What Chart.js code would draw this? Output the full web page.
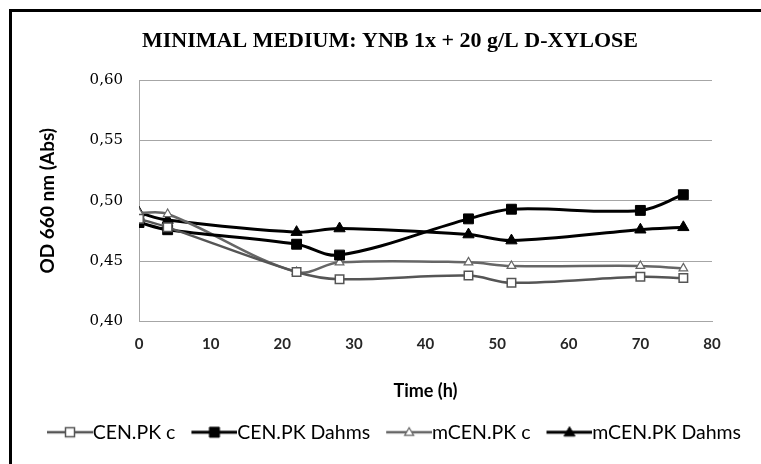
<!DOCTYPE html>
<html>
<head>
<meta charset="utf-8">
<script src="https://cdn.jsdelivr.net/npm/chart.js@4/dist/chart.umd.min.js"></script>
<style>
  html, body { margin: 0; padding: 0; background: #fff; overflow: hidden; }
  #wrap { width: 761px; height: 464px; }
</style>
</head>
<body>
<div id="wrap"><canvas id="growthChart" width="761" height="464"></canvas></div>
<script>
// sampling times (h)
var times = [0, 4, 22, 28, 46, 52, 70, 76];

// OD 660 nm readings per strain
var cenPkC = [0.485, 0.478, 0.441, 0.435, 0.438, 0.432, 0.437, 0.436];
var cenPkDahms = [0.482, 0.476, 0.464, 0.455, 0.485, 0.493, 0.492, 0.505];
var mCenPkC = [0.490, 0.489, 0.441, 0.449, 0.449, 0.446, 0.446, 0.444];
var mCenPkDahms = [0.490, 0.484, 0.474, 0.477, 0.472, 0.467, 0.476, 0.478];

var seriesNames = ['CEN.PK c', 'CEN.PK Dahms', 'mCEN.PK c', 'mCEN.PK Dahms'];
var yTicks = [0.40, 0.45, 0.50, 0.55, 0.60];
var xTicks = [0, 10, 20, 30, 40, 50, 60, 70, 80];

function toPoints(values) {
  var pts = [];
  for (var i = 0; i < times.length; i++) {
    pts.push({ x: times[i], y: values[i] });
  }
  return pts;
}

var styles = [
  { color: '#555555', marker: 'rect', fill: '#ffffff', radius: 6, border: 1.5, width: 2.5 },
  { color: '#000000', marker: 'rect', fill: '#000000', radius: 7, border: 1, width: 3 },
  { color: '#666666', marker: 'triangle', fill: '#ffffff', radius: 5, border: 1.2, width: 2.5 },
  { color: '#000000', marker: 'triangle', fill: '#000000', radius: 6.5, border: 1, width: 3 }
];

var allValues = [cenPkC, cenPkDahms, mCenPkC, mCenPkDahms];

var datasets = [];
for (var i = 0; i < allValues.length; i++) {
  var s = styles[i];
  datasets.push({
    label: seriesNames[i],
    data: toPoints(allValues[i]),
    borderColor: s.color,
    borderWidth: s.width,
    backgroundColor: s.fill,
    pointStyle: s.marker,
    pointRadius: s.radius,
    pointBorderWidth: s.border,
    pointBorderColor: s.color,
    pointBackgroundColor: s.fill,
    tension: 0.35,
    fill: false
  });
}

// line + marker swatch for the legend; the left part stays empty so the
// line runs right up to the label text
var SW = 44;
function legendSwatch(s) {
  var c = document.createElement('canvas');
  c.width = SW + 20;
  c.height = 14;
  var g = c.getContext('2d');
  var x0 = 18, x1 = SW + 20, mid = (x0 + x1) / 2;
  g.strokeStyle = s.color;
  g.lineWidth = s.width;
  g.beginPath();
  g.moveTo(x0, 7);
  g.lineTo(x1, 7);
  g.stroke();
  g.fillStyle = s.fill;
  g.lineWidth = s.border;
  g.beginPath();
  if (s.marker === 'rect') {
    var h = s.fill === '#ffffff' ? 4.5 : 5;
    g.rect(mid - h, 7 - h, 2 * h, 2 * h);
  } else {
    var r = s.fill === '#ffffff' ? 4.5 : 5.5;
    g.moveTo(mid, 7 - r);
    g.lineTo(mid + r, 7 + r * 0.7);
    g.lineTo(mid - r, 7 + r * 0.7);
    g.closePath();
  }
  g.fill();
  g.stroke();
  return c;
}

// black frame: left edge and top edge
var framePlugin = {
  id: 'frame',
  beforeDraw: function (chart) {
    var ctx = chart.ctx;
    ctx.save();
    ctx.fillStyle = '#000';
    ctx.fillRect(9, 9, 3, 455);
    ctx.fillRect(9, 9, 752, 3);
    ctx.restore();
  }
};

var chart = new Chart(document.getElementById('growthChart'), {
  type: 'line',
  data: { datasets: datasets },
  plugins: [framePlugin],
  options: {
    responsive: false,
    animation: false,
    layout: { padding: { left: 19, right: 0, top: 0, bottom: 12 } },
    plugins: {
      title: {
        display: true,
        text: 'MINIMAL MEDIUM: YNB 1x + 20 g/L D-XYLOSE',
        color: '#000',
        font: { family: 'Liberation Serif', size: 22, weight: 'bold' },
        padding: { top: 28, bottom: 25.6 }
      },
      legend: {
        position: 'bottom',
        labels: {
          color: '#000',
          font: { family: 'Lato', size: 19.5 },
          padding: 8,
          usePointStyle: true,
          pointStyleWidth: SW,
          generateLabels: function (ch) {
            return ch.data.datasets.map(function (ds, idx) {
              return {
                text: ds.label,
                pointStyle: legendSwatch(styles[idx]),
                fillStyle: styles[idx].fill,
                strokeStyle: styles[idx].color,
                lineWidth: 0,
                hidden: false,
                datasetIndex: idx
              };
            });
          }
        }
      },
      tooltip: { enabled: false }
    },
    scales: {
      x: {
        type: 'linear',
        min: 0,
        max: 80,
        afterBuildTicks: function (scale) {
          scale.ticks = xTicks.map(function (v) { return { value: v }; });
        },
        afterFit: function (scale) { scale.height = 93; },
        grid: { display: false },
        border: { display: true, color: '#a6a6a6', width: 1 },
        ticks: {
          color: '#262626',
          padding: 6,
          font: { family: 'Lato', size: 15, weight: 'bold' },
          maxRotation: 0
        },
        title: {
          display: true,
          text: 'Time (h)',
          color: '#000',
          font: { family: 'Lato', size: 18, weight: 'bold' },
          padding: { top: 0, bottom: 13 }
        }
      },
      y: {
        min: 0.40,
        max: 0.60,
        afterBuildTicks: function (scale) {
          scale.ticks = yTicks.map(function (v) { return { value: v }; });
        },
        afterFit: function (scale) { scale.width = 120; },
        grid: { color: '#a6a6a6', lineWidth: 1, drawTicks: false },
        border: { display: true, color: '#a6a6a6', width: 1 },
        ticks: {
          color: '#000',
          padding: 16,
          font: { family: 'DejaVu Serif', size: 15 },
          callback: function (v) { return v.toFixed(2).replace('.', ','); }
        },
        title: {
          display: true,
          text: 'OD 660 nm (Abs)',
          color: '#000',
          font: { family: 'Lato', size: 19, weight: 'bold' },
          padding: { top: 17, bottom: 0 }
        }
      },
      // empty right-hand axis that keeps the margin after x = 80
      gap: {
        type: 'linear',
        position: 'right',
        display: true,
        grid: { display: false },
        border: { display: false },
        ticks: { display: false },
        afterFit: function (scale) { scale.width = 49; }
      }
    }
  }
});
</script>
</body>
</html>
